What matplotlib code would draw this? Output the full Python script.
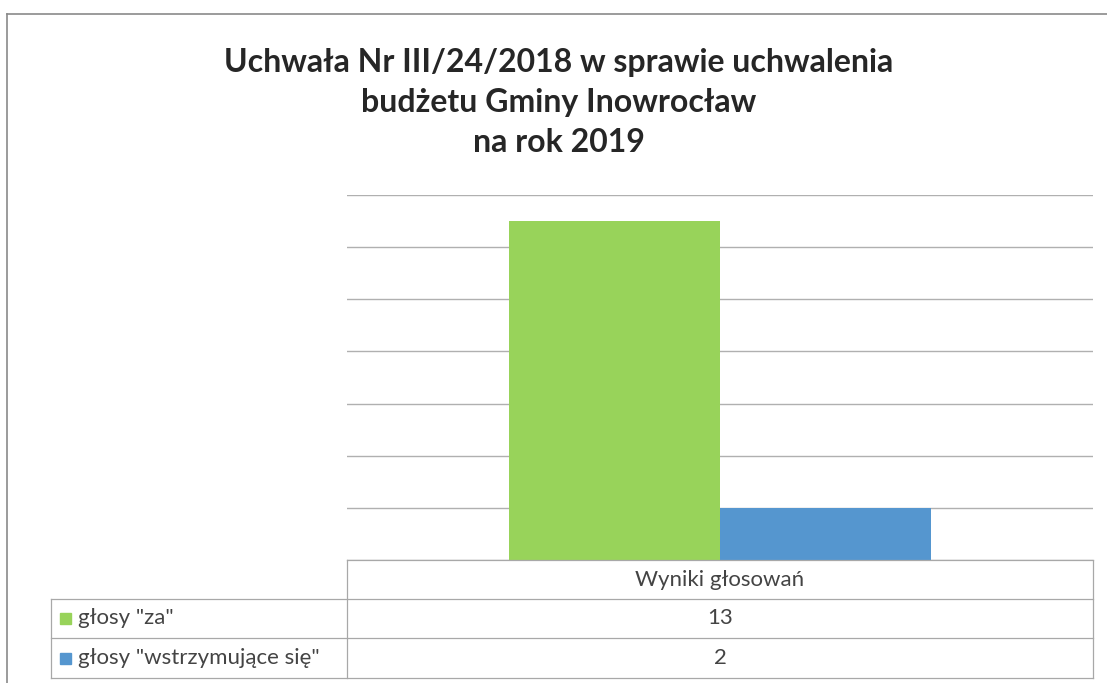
import matplotlib
matplotlib.use("Agg")
from matplotlib import pyplot as plt
from matplotlib.patches import Rectangle
from matplotlib.lines import Line2D

# Dane
kategorie = ["Wyniki głosowań"]
serie = ['głosy "za"', 'głosy "wstrzymujące się"']
wartosci = [13, 2]
kolory = ["#98d35a", "#5596cf"]
tytul = ["Uchwała Nr III/24/2018 w sprawie uchwalenia",
         "budżetu Gminy Inowrocław",
         "na rok 2019"]

plt.rcParams['font.family'] = ['Lato', 'DejaVu Sans']

W, H = 1107, 683
fig = plt.figure(figsize=(W / 100, H / 100), dpi=100)
fig.patch.set_facecolor("white")


def fx(x):
    return x / W


def fy(y):
    return 1 - y / H


def linia(xa, ya, xb, yb, kolor="#a8a8a8", lw=0.9):
    fig.add_artist(Line2D([fx(xa), fx(xb)], [fy(ya), fy(yb)], color=kolor, linewidth=lw))


# Obszar wykresu (piksele)
x0, x1, y_top, y_bot = 347, 1093, 195, 560
ax = fig.add_axes([fx(x0), fy(y_bot), (x1 - x0) / W, (y_bot - y_top) / H])

szer = 0.283
for i, (v, c) in enumerate(zip(wartosci, kolory)):
    ax.bar((i - 0.5) * szer, v, width=szer, color=c, zorder=2)

ax.set_xlim(-0.5, 0.5)
ax.set_ylim(0, 14)
ax.set_yticks(range(0, 15, 2))
ax.yaxis.grid(True, color="#b0b0b0", linewidth=1)
ax.set_axisbelow(True)
ax.tick_params(left=False, bottom=False, labelleft=False, labelbottom=False)
for s in ax.spines.values():
    s.set_visible(False)

# Tabela danych pod wykresem
lx = 51          # lewa krawędź etykiet wierszy
wiersze = [560, 599, 638, 678]
linia(x0, wiersze[0], x1, wiersze[0])
for y in wiersze[1:]:
    linia(lx, y, x1, y)
linia(x0, wiersze[0], x0, wiersze[-1])
linia(x1, wiersze[0], x1, wiersze[-1])
linia(lx, wiersze[1], lx, wiersze[-1])

kol_txt = "#444444"
fs = 16
fig.text(fx((x0 + x1) / 2), fy((wiersze[0] + wiersze[1]) / 2), kategorie[0],
         ha="center", va="center", fontsize=fs, color=kol_txt)
for i, (s, v, c) in enumerate(zip(serie, wartosci, kolory)):
    yc = (wiersze[i + 1] + wiersze[i + 2]) / 2
    fig.add_artist(Rectangle((fx(60), fy(yc + 5.5)), 11 / W, 11 / H,
                             transform=fig.transFigure, color=c))
    fig.text(fx(78), fy(yc), s, ha="left", va="center", fontsize=fs, color=kol_txt)
    fig.text(fx((x0 + x1) / 2), fy(yc), str(v), ha="center", va="center",
             fontsize=fs, color=kol_txt)

# Tytuł
for i, t in enumerate(tytul):
    fig.text(fx(559), fy(72 + 40 * i), t, ha="center", va="baseline",
             fontsize=23, fontweight="bold", color="#262626")

# Ramka obszaru wykresu
linia(7, 14, W, 14, "#8a8a8a", 1.2)
linia(7, 14, 7, H, "#8a8a8a", 1.2)

fig.savefig("out.png", dpi=100)
